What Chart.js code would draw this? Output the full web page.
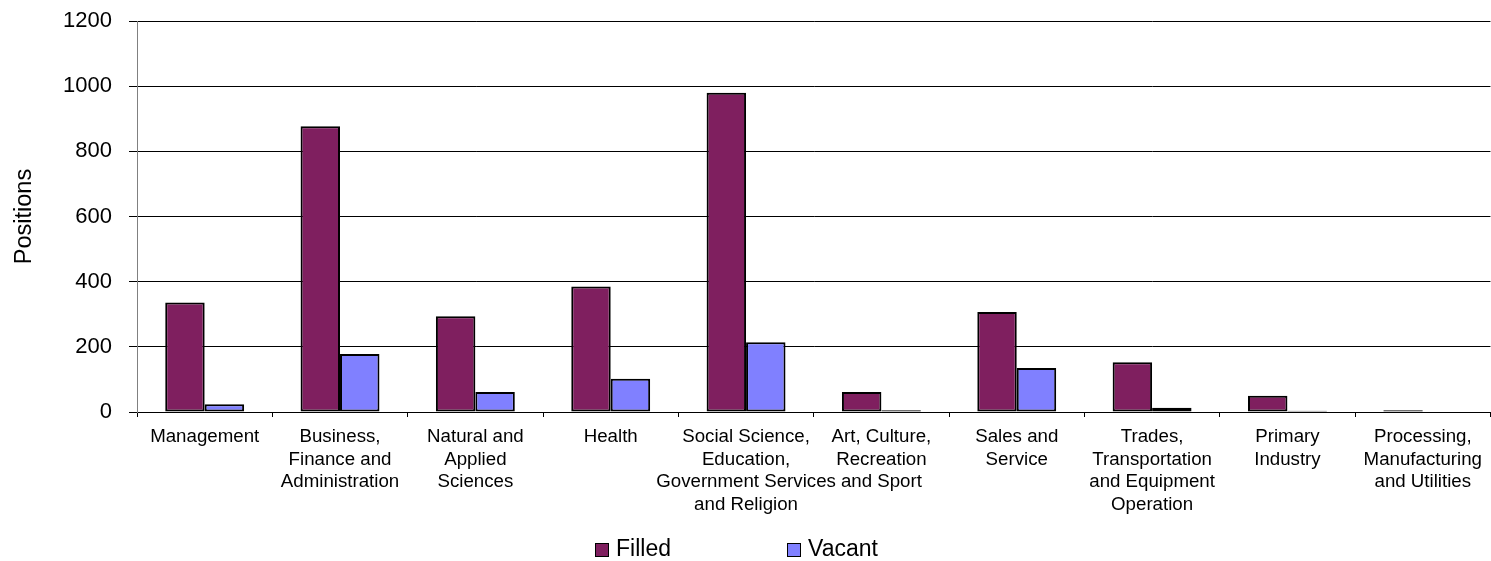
<!DOCTYPE html>
<html lang="en">
<head>
<meta charset="utf-8">
<title>Positions by occupation</title>
<script src="https://cdn.jsdelivr.net/npm/chart.js@4/dist/chart.umd.min.js"></script>
<style>
  body { margin: 0; background: #fff; }
  .wrap { width: 1491px; height: 561px; position: relative; }
</style>
</head>
<body>
<div class="wrap"><canvas id="chart-area"></canvas></div>

<script>
var categories = [
  'Management',
  ['Business,', 'Finance and', 'Administration'],
  ['Natural and', 'Applied', 'Sciences'],
  'Health',
  ['Social Science,', 'Education,', 'Government Services', 'and Religion'],
  ['Art, Culture,', 'Recreation', 'and Sport'],
  ['Sales and', 'Service'],
  ['Trades,', 'Transportation', 'and Equipment', 'Operation'],
  ['Primary', 'Industry'],
  ['Processing,', 'Manufacturing', 'and Utilities']
];
var filled = [336, 877, 294, 385, 980, 61, 307, 153, 50, 5];
var vacant = [24, 178, 61, 102, 214, 5, 135, 13, 4, 0];
var yTicks = [0, 200, 400, 600, 800, 1000, 1200];

var FONT = 'Arial, "Liberation Sans", sans-serif';

// simple legend drawn under the axis labels
var legendPlugin = {
  id: 'bottomLegend',
  afterDraw: function(chart) {
    var ctx = chart.ctx;
    var xs = [595, 787];
    ctx.save();
    ctx.font = '23px ' + FONT;
    ctx.textBaseline = 'middle';
    chart.data.datasets.forEach(function(ds, i) {
      var x = xs[i], y = 550;
      ctx.fillStyle = ds.backgroundColor;
      ctx.fillRect(x, y - 7, 14, 14);
      ctx.strokeStyle = '#000';
      ctx.lineWidth = 1;
      ctx.strokeRect(x + 0.5, y - 6.5, 13, 13);
      ctx.fillStyle = '#000';
      ctx.fillText(ds.label, x + 21, y);
    });
    ctx.restore();
  }
};

var config = {
  type: 'bar',
  data: {
    labels: categories,
    datasets: [{
      label: 'Filled',
      data: filled,
      backgroundColor: '#7f1f5f',
      borderColor: '#000',
      borderWidth: 2,
      borderSkipped: false,
      categoryPercentage: 0.583,
      barPercentage: 1
    }, {
      label: 'Vacant',
      data: vacant,
      backgroundColor: '#8080ff',
      borderColor: '#000',
      borderWidth: 2,
      borderSkipped: false,
      categoryPercentage: 0.583,
      barPercentage: 1
    }]
  },
  options: {
    responsive: true,
    maintainAspectRatio: false,
    animation: false,
    layout: { padding: { top: 21, right: 0, bottom: 0, left: 0 } },
    plugins: {
      legend: { display: false },
      tooltip: { enabled: false }
    },
    scales: {
      x: {
        grid: {
          offset: true,
          drawOnChartArea: false,
          drawTicks: true,
          tickLength: 5,
          color: '#000'
        },
        border: { color: '#000', width: 1 },
        ticks: {
          autoSkip: false,
          maxRotation: 0,
          minRotation: 0,
          padding: 9,
          color: '#000',
          font: { family: FONT, size: 18.7, lineHeight: 1.2 }
        },
        afterFit: function(scale) { scale.height = 149; }
      },
      y: {
        min: 0,
        max: 1200,
        afterBuildTicks: function(scale) {
          scale.ticks = yTicks.map(function(v) { return { value: v }; });
        },
        grid: {
          color: '#000',
          tickLength: 8,
          drawTicks: true
        },
        border: { color: '#808080', width: 1 },
        ticks: {
          padding: 17,
          color: '#000',
          font: { family: FONT, size: 22 },
          callback: function(v) { return String(v); }
        },
        title: {
          display: true,
          text: 'Positions',
          color: '#000',
          padding: { top: 10, bottom: 0 },
          font: { family: FONT, size: 23.5, weight: 'normal' }
        },
        afterFit: function(scale) {
          scale.width = 137;
          scale.paddingTop = 0;
        }
      }
    }
  },
  plugins: [legendPlugin]
};

window.onload = function() {
  var ctx = document.getElementById('chart-area').getContext('2d');
  window.myBar = new Chart(ctx, config);
};
</script>
</body>
</html>
